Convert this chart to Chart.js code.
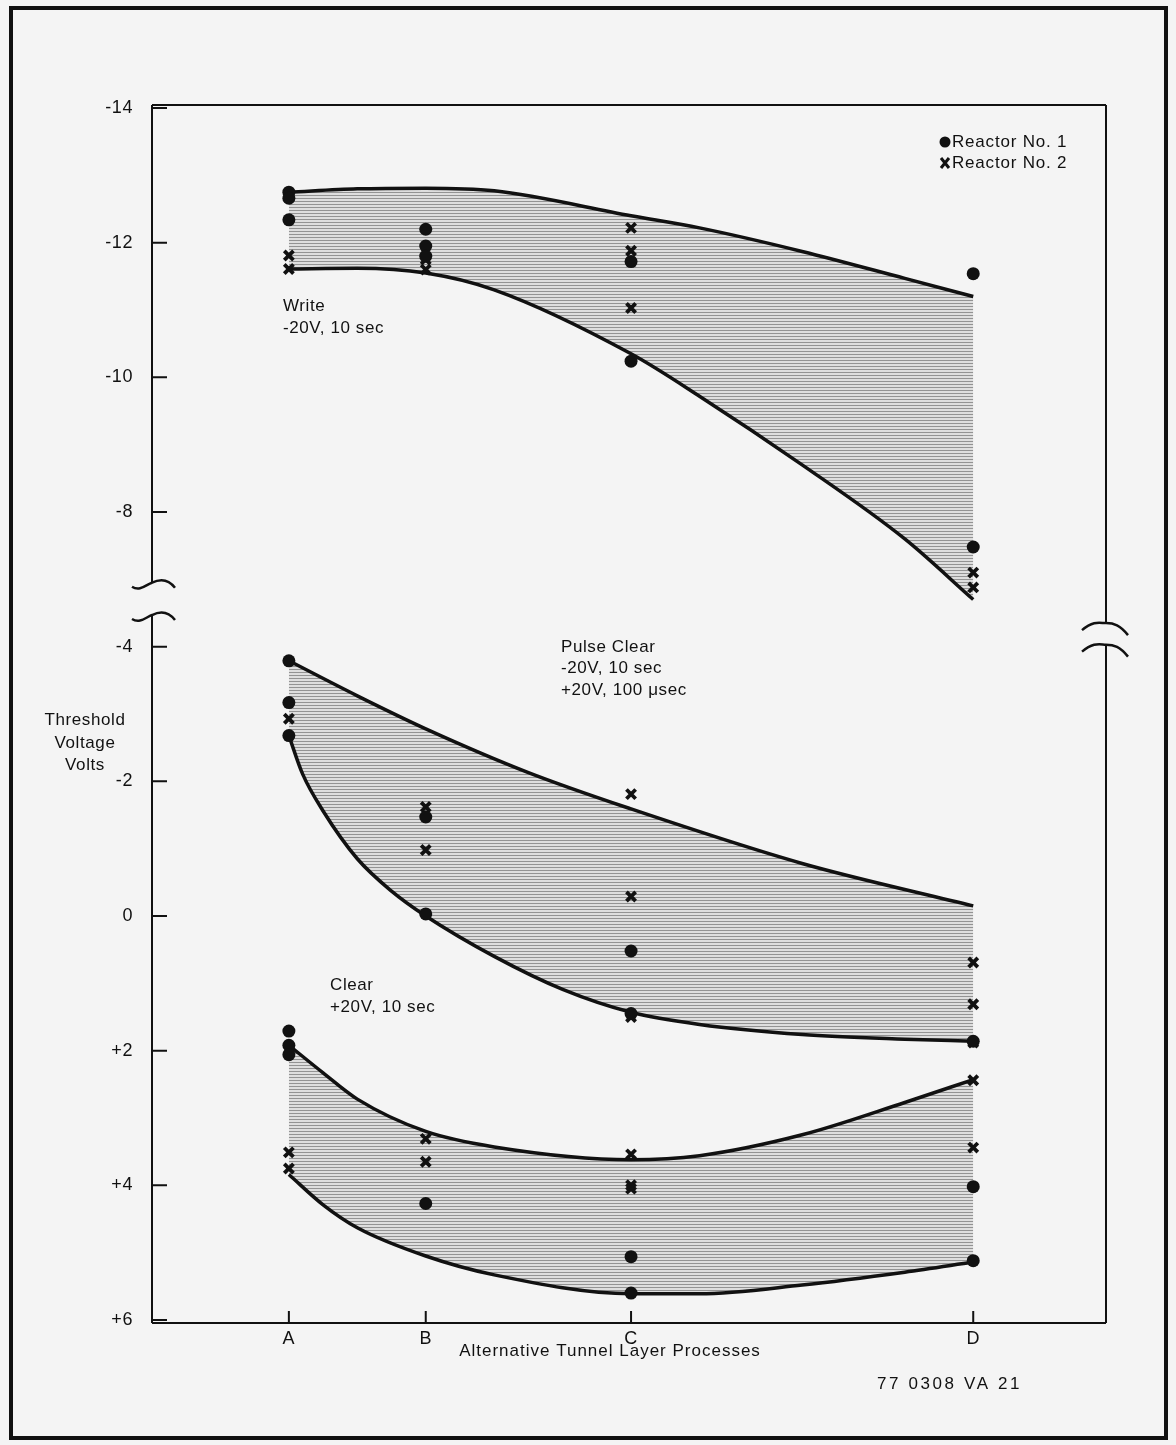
<!DOCTYPE html>
<html><head><meta charset="utf-8">
<script src="https://cdn.jsdelivr.net/npm/chart.js@4.4.1/dist/chart.umd.min.js"></script>
<style>html,body{margin:0;padding:0;background:#f4f4f4;}canvas{display:block;}</style>
</head><body>
<canvas id="c" width="1176" height="1445"></canvas>
<script>
// ---------- data ----------
const processLabels = ['A', 'B', 'C', 'D'];
const processX = [0, 1, 2.5, 5];
const yTickValues = [-14, -12, -10, -8, -6, -4, -2, 0, 2, 4];       // axis positions
const yTickLabels = ['-14', '-12', '-10', '-8', '-4', '-2', '0', '+2', '+4', '+6'];
const upperShift = 0;   // Write band plotted on upper (broken) scale
const lowerShift = -2;  // Pulse Clear / Clear bands plotted below the axis break

// Write (-20V, 10 sec) envelope
const writeCurveX = [0, 0.5, 1, 1.5, 2.5, 3, 3.75, 4.5, 5];
const writeUpper = [-12.75, -12.8, -12.81, -12.77, -12.4, -12.22, -11.87, -11.47, -11.2];
const writeLower = [-11.61, -11.62, -11.55, -11.3, -10.35, -9.72, -8.7, -7.6, -6.7];
// Pulse Clear envelope
const pulseUpperX = [0, 0.5, 1, 1.75, 2.5, 3.75, 5];
const pulseUpper = [-3.79, -3.27, -2.78, -2.13, -1.59, -0.78, -0.15];
const pulseLowerX = [0, 0.1, 0.25, 0.5, 0.75, 1, 1.5, 2, 2.5, 3, 3.75, 4.5, 5];
const pulseLower = [-2.68, -2.11, -1.56, -0.85, -0.37, 0, 0.6, 1.09, 1.43, 1.61, 1.76, 1.83, 1.86];
// Clear (+20V, 10 sec) envelope
const clearCurveX = [0, 0.25, 0.5, 1, 1.5, 2.5, 3, 3.75, 4.5, 5];
const clearUpper = [1.92, 2.33, 2.72, 3.2, 3.43, 3.62, 3.56, 3.25, 2.77, 2.43];
const clearLower = [3.84, 4.29, 4.63, 5.05, 5.33, 5.61, 5.61, 5.48, 5.29, 5.14];

// Measured points per process (A, B, C, D)
const writeReactor1 = [[-12.75, -12.66, -12.34], [-12.2, -11.95, -11.8], [-11.72, -10.24], [-11.54, -7.48]];
const writeReactor2 = [[-11.81, -11.61], [-11.75, -11.6], [-12.22, -11.88, -11.03], [-7.1, -6.88]];
const pulseReactor1 = [[-3.79, -3.17, -2.68], [-1.47, -0.03], [0.52, 1.45], [1.86]];
const pulseReactor2 = [[-2.93], [-1.62, -0.98], [-1.81, -0.29, 1.5], [0.69, 1.31, 1.88]];
const clearReactor1 = [[1.71, 1.92, 2.06], [4.27], [5.06, 5.6], [4.02, 5.12]];
const clearReactor2 = [[3.51, 3.75], [3.31, 3.65], [3.54, 4.0, 4.05], [2.44, 3.44]];

// ---------- helpers ----------
const FONT = '"Liberation Sans", Arial, Helvetica, sans-serif';
const INK = '#111111';
function curve(xs, vs, shift) { return xs.map((x, i) => ({ x: x, y: vs[i] + shift })); }
function pts(groups, shift) {
  const out = [];
  groups.forEach((vals, i) => vals.forEach(v => out.push({ x: processX[i], y: v + shift })));
  return out;
}
const pc = document.createElement('canvas');
pc.width = 4; pc.height = 3;
const pctx = pc.getContext('2d');
pctx.fillStyle = '#dedede'; pctx.fillRect(0, 0, 4, 3);
pctx.fillStyle = '#939393'; pctx.fillRect(0, 0, 4, 1);
const hatch = document.getElementById('c').getContext('2d').createPattern(pc, 'repeat');

function band(xu, up, xl, lo, shift) {
  const common = { type: 'line', borderColor: INK, borderWidth: 3.5, pointRadius: 0,
    cubicInterpolationMode: 'monotone', order: 2 };
  return [
    Object.assign({}, common, { data: curve(xu, up, shift), fill: '+1', backgroundColor: hatch }),
    Object.assign({}, common, { data: curve(xl, lo, shift), fill: false })
  ];
}

const reactor1 = [].concat(pts(writeReactor1, upperShift), pts(pulseReactor1, lowerShift), pts(clearReactor1, lowerShift));
const reactor2 = [].concat(pts(writeReactor2, upperShift), pts(pulseReactor2, lowerShift), pts(clearReactor2, lowerShift));

const datasets = [].concat(
  band(writeCurveX, writeUpper, writeCurveX, writeLower, upperShift),
  band(pulseUpperX, pulseUpper, pulseLowerX, pulseLower, lowerShift),
  band(clearCurveX, clearUpper, clearCurveX, clearLower, lowerShift),
  [
    { type: 'scatter', label: 'Reactor No. 1', data: reactor1, pointStyle: 'circle', pointRadius: 6.5,
      backgroundColor: INK, borderColor: INK, borderWidth: 0, showLine: false, order: 0 },
    { type: 'scatter', label: 'Reactor No. 2', data: reactor2, pointStyle: 'crossRot', pointRadius: 6.5,
      backgroundColor: INK, borderColor: INK, borderWidth: 3.8, showLine: false, order: 0 }
  ]
);

// ---------- decoration plugin ----------
const deco = {
  id: 'deco',
  beforeDraw(chart) {
    const c = chart.ctx;
    c.save();
    c.fillStyle = '#f4f4f4';
    c.fillRect(0, 0, chart.width, chart.height);
    c.strokeStyle = '#111';
    c.lineWidth = 4;
    c.strokeRect(11, 8, 1155, 1430);
    c.restore();
    c.letterSpacing = '0.6px';
  },
  afterDraw(chart) {
    const c = chart.ctx;
    const a = chart.chartArea;
    const ys = chart.scales.y, xs = chart.scales.x;
    c.save();
    c.strokeStyle = INK;
    c.lineWidth = 2;
    // frame with axis breaks
    const lb1 = ys.getPixelForValue(-6.95), lb2 = ys.getPixelForValue(-6.47);
    const rb1 = ys.getPixelForValue(-6.35), rb2 = ys.getPixelForValue(-6.03);
    c.beginPath();
    c.moveTo(a.left, a.top); c.lineTo(a.right, a.top);
    c.moveTo(a.left, a.bottom); c.lineTo(a.right, a.bottom);
    c.moveTo(a.left, a.top); c.lineTo(a.left, lb1);
    c.moveTo(a.left, lb2); c.lineTo(a.left, a.bottom);
    c.moveTo(a.right, a.top); c.lineTo(a.right, rb1);
    c.moveTo(a.right, rb2); c.lineTo(a.right, a.bottom);
    c.stroke();
    // break marks
    c.lineWidth = 2.5;
    function mark(cx, cy) {
      c.beginPath();
      c.moveTo(cx - 20, cy + 4);
      c.bezierCurveTo(cx - 12, cy + 9, cx - 6, cy + 2, cx, cy);
      c.bezierCurveTo(cx + 8, cy - 4, cx + 16, cy - 4, cx + 23, cy + 5);
      c.stroke();
    }
    mark(a.left, lb1); mark(a.left, lb2);
    function arch(cx, cy) {
      c.beginPath();
      c.moveTo(cx - 24, cy + 7);
      c.bezierCurveTo(cx - 12, cy - 3, cx - 6, cy, cx, cy);
      c.bezierCurveTo(cx + 8, cy, cx + 14, cy + 2, cx + 22, cy + 12);
      c.stroke();
    }
    arch(a.right, rb1); arch(a.right, rb2);
    // inward tick marks
    c.lineWidth = 2;
    c.beginPath();
    yTickValues.forEach(v => { const y = ys.getPixelForValue(v); c.moveTo(a.left, y); c.lineTo(a.left + 15, y); });
    processX.forEach(v => { const x = xs.getPixelForValue(v); c.moveTo(x, a.bottom); c.lineTo(x, a.bottom - 12); });
    c.stroke();
    // texts
    c.fillStyle = INK;
    c.textBaseline = 'middle';
    c.font = '17px ' + FONT;
    c.textAlign = 'left';
    c.fillText('Write', 283, 306);
    c.fillText('-20V, 10 sec', 283, 328);
    c.fillText('Pulse Clear', 561, 647);
    c.fillText('-20V, 10 sec', 561, 668);
    c.fillText('+20V, 100 \u03BCsec', 561, 690);
    c.fillText('Clear', 330, 985);
    c.fillText('+20V, 10 sec', 330, 1007);
    c.textAlign = 'center';
    c.fillText('Threshold', 85, 720);
    c.fillText('Voltage', 85, 743);
    c.fillText('Volts', 85, 765);
    c.letterSpacing = '1px';
    c.fillText('Alternative Tunnel Layer Processes', 610, 1351);
    c.letterSpacing = '2.6px';
    c.textAlign = 'left';
    c.fillText('77 0308 VA 21', 877, 1384);
    c.letterSpacing = '0.8px';
    // legend
    c.fillText('Reactor No. 1', 952, 142);
    c.fillText('Reactor No. 2', 952, 163);
    c.beginPath(); c.arc(945, 142, 5.5, 0, Math.PI * 2); c.fill();
    c.lineWidth = 3;
    c.beginPath(); c.moveTo(941, 158); c.lineTo(949, 168); c.moveTo(949, 158); c.lineTo(941, 168); c.stroke();
    c.restore();
  }
};

new Chart(document.getElementById('c'), {
  type: 'line',
  data: { datasets: datasets },
  options: {
    responsive: false,
    animation: false,
    devicePixelRatio: 1,
    layout: { padding: { left: 0, top: 105, right: 70, bottom: 0 } },
    plugins: { legend: { display: false }, tooltip: { enabled: false },
      filler: { drawTime: 'beforeDatasetsDraw' } },
    scales: {
      x: {
        type: 'linear', min: -1, max: 5.97,
        afterFit: s => { s.height = 122; },
        afterBuildTicks: s => { s.ticks = processX.map(v => ({ value: v })); },
        grid: { display: false, drawTicks: false }, border: { display: false },
        ticks: { autoSkip: false, maxRotation: 0, padding: 5, color: INK,
          font: { family: FONT, size: 18 },
          callback: v => processLabels[processX.indexOf(v)] }
      },
      y: {
        type: 'linear', reverse: true, min: -14.045, max: 4.045,
        afterFit: s => { s.width = 152; },
        afterBuildTicks: s => { s.ticks = yTickValues.map(v => ({ value: v })); },
        grid: { display: false, drawTicks: false }, border: { display: false },
        ticks: { autoSkip: false, padding: 19, color: INK,
          font: { family: FONT, size: 18 },
          callback: v => yTickLabels[yTickValues.indexOf(v)] }
      }
    }
  },
  plugins: [deco]
});
</script>
</body></html>
